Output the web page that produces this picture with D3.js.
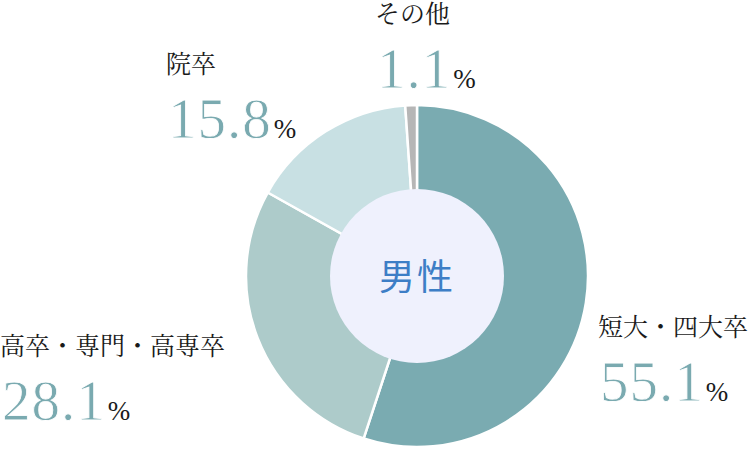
<!DOCTYPE html>
<html>
<head>
<meta charset="utf-8">
<script src="https://cdn.jsdelivr.net/npm/d3@7"></script>
<style>
  body { margin: 0; background: #fff; }
  .cat-label { font-family: "Noto Serif CJK JP", "Noto Sans CJK JP", serif; font-size: 25px; fill: #1a1a1a; }
  .pct-value { font-family: "Liberation Serif", "DejaVu Serif", serif; font-size: 57px; fill: #7aaab0;
               stroke: #fff; stroke-width: 0.8px; paint-order: normal; }
  .pct-sign { font-family: "Liberation Serif", "DejaVu Serif", serif; font-size: 27px; fill: #1a1a1a; }
  .center-label { font-family: "Noto Sans CJK JP", sans-serif; font-size: 36px; fill: #3d7ec6; }
</style>
</head>
<body>
<svg id="chart" width="756" height="450"></svg>
<script>
// shares, clockwise from 12 o'clock
const categories = ["短大・四大卒", "高卒・専門・高専卒", "院卒", "その他"]
const values = [55.1, 28.1, 15.8, 1.1]
const centerTitle = "男性"

const sliceColors = ["#7aabb1", "#adcbca", "#c8e0e3", "#b6b6b6"]

// where each label block sits (x, baseline of the name); number goes below
const labelLayout = {
  "短大・四大卒":       {x: 598, y: 336},
  "高卒・専門・高専卒": {x: 0,   y: 355},
  "院卒":               {x: 166, y: 73},
  "その他":             {x: 375, y: 23}
}

const svg = d3.select("#chart")
const cx = 417, cy = 276
const outerR = 171, innerR = 87

const pie = d3.pie().sort(null).value(d => d.value)
const arc = d3.arc().innerRadius(0).outerRadius(outerR)
const color = d3.scaleOrdinal().domain(categories).range(sliceColors)

const data = categories.map((c, i) => ({name: c, value: values[i]}))

const g = svg.append("g").attr("transform", `translate(${cx},${cy})`)

g.selectAll("path.slice")
  .data(pie(data))
  .enter()
  .append("path")
  .attr("class", "slice")
  .attr("d", arc)
  .attr("fill", d => color(d.data.name))
  .attr("stroke", "#fff")
  .attr("stroke-width", 2.5)
  .attr("stroke-linejoin", "round")

g.append("circle")
  .attr("r", innerR)
  .attr("fill", "#eff1fd")

g.append("text")
  .attr("class", "center-label")
  .attr("text-anchor", "middle")
  .attr("dy", "0.35em")
  .attr("y", 1)
  .attr("letter-spacing", 2)
  .text(centerTitle)

// labels
const labels = svg.selectAll("g.label")
  .data(data)
  .enter()
  .append("g")
  .attr("class", "label")
  .attr("transform", d => `translate(${labelLayout[d.name].x},${labelLayout[d.name].y})`)

labels.append("text")
  .attr("class", "cat-label")
  .text(d => d.name)

const num = labels.append("text")
  .attr("y", 65)
  .attr("x", 2)
  .attr("letter-spacing", 1)

num.append("tspan")
  .attr("class", "pct-value")
  .text(d => d3.format(".1f")(d.value))

num.append("tspan")
  .attr("class", "pct-sign")
  .attr("dx", 2)
  .text("%")
</script>
</body>
</html>
